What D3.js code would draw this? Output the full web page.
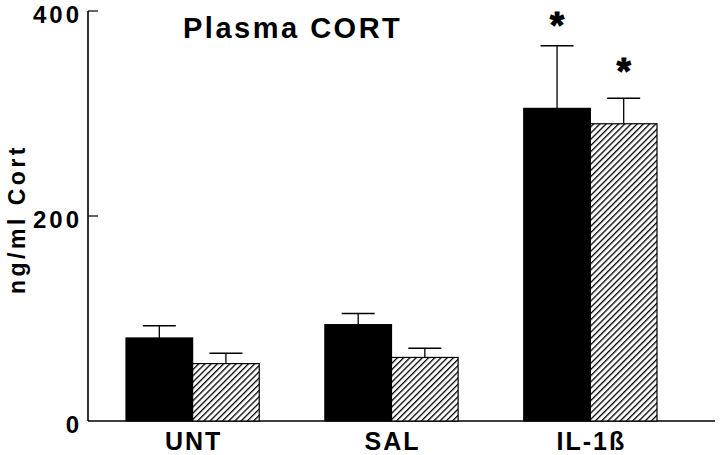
<!DOCTYPE html>
<html><head><meta charset="utf-8">
<script src="https://cdn.jsdelivr.net/npm/d3@7/dist/d3.min.js"></script>
<style>body{margin:0;background:#fff}svg{display:block}text{font-family:"Liberation Sans",Arial,Helvetica,sans-serif;font-weight:bold;fill:#000}</style>
</head><body>
<script>
const categories = ["UNT", "SAL", "IL-1ß"];
const series = ["group A", "group B"];
const valuesA = [81, 94, 305];
const errorsA = [12, 11, 61];
const valuesB = [56, 62, 290];
const errorsB = [10, 9, 25];
const starLevelsA = [null, null, 394];
const starLevelsB = [null, null, 349];
const yTicks = [0, 200, 400];

const W = 720, H = 455;
const svg = d3.select("body").append("svg").attr("width", W).attr("height", H);
const defs = svg.append("defs");
const pat = defs.append("pattern").attr("id", "hatch").attr("patternUnits", "userSpaceOnUse")
  .attr("width", 4.4).attr("height", 4.4).attr("patternTransform", "rotate(45)");
pat.append("rect").attr("width", 4.4).attr("height", 4.4).attr("fill", "#fff");
pat.append("line").attr("x1", 0).attr("y1", 0).attr("x2", 0).attr("y2", 4.4)
  .attr("stroke", "#000").attr("stroke-width", 2.6);

const y = d3.scaleLinear().domain([0, 400]).range([421, 11]);
const x0 = d3.scaleBand().domain(categories).range([126, 657]).paddingInner(0.33).paddingOuter(0);
const x1 = d3.scaleBand().domain(series).range([0, x0.bandwidth()]);

// axes
svg.append("line").attr("x1", 88).attr("x2", 88).attr("y1", y(400)).attr("y2", y(0)).attr("stroke", "#000").attr("stroke-width", 1.6);
svg.append("line").attr("x1", 88).attr("x2", 715).attr("y1", y(0)).attr("y2", y(0)).attr("stroke", "#000").attr("stroke-width", 1.6);
svg.selectAll(".tk").data(yTicks.filter(d => d > 0)).enter().append("line")
  .attr("x1", 88).attr("x2", 98).attr("y1", d => y(d)).attr("y2", d => y(d)).attr("stroke", "#000").attr("stroke-width", 1.2);
svg.selectAll(".tl").data(yTicks).enter().append("text")
  .attr("x", 82).attr("y", d => y(d) + 12).attr("text-anchor", "end")
  .style("font-size", "24px").style("letter-spacing", "3px").text(d => d);

// bars
const data = categories.map((c, i) => ({c, i,
  bars: [{s: series[0], v: valuesA[i], e: errorsA[i], star: starLevelsA[i]},
         {s: series[1], v: valuesB[i], e: errorsB[i], star: starLevelsB[i]}]}));
const g = svg.selectAll(".grp").data(data).enter().append("g")
  .attr("transform", d => `translate(${x0(d.c)},0)`);
const b = g.selectAll(".b").data(d => d.bars).enter().append("g");
const cx = d => x1(d.s) + x1.bandwidth() / 2;
b.append("line").attr("x1", cx).attr("x2", cx)
  .attr("y1", d => y(d.v)).attr("y2", d => y(d.v + d.e)).attr("stroke", "#000").attr("stroke-width", 1.3);
b.append("line").attr("x1", d => cx(d) - 16.5).attr("x2", d => cx(d) + 16.5)
  .attr("y1", d => y(d.v + d.e)).attr("y2", d => y(d.v + d.e)).attr("stroke", "#000").attr("stroke-width", 1.5);
b.append("rect").attr("x", d => x1(d.s)).attr("width", x1.bandwidth())
  .attr("y", d => y(d.v)).attr("height", d => y(0) - y(d.v))
  .attr("fill", (d, j) => j === 0 ? "#000" : "url(#hatch)")
  .attr("stroke", "#000").attr("stroke-width", 1.2);

// significance stars
b.filter(d => d.star != null).append("text")
  .attr("x", cx)
  .attr("y", d => y(d.star) + 20.5)
  .attr("text-anchor", "middle").style("font-size", "36px")
  .attr("stroke", "#000").attr("stroke-width", 1.2).text("*");

// x labels
svg.selectAll(".xl").data(categories).enter().append("text")
  .attr("x", d => x0(d) + x0.bandwidth() / 2 + 1).attr("y", 450)
  .attr("text-anchor", "middle").style("font-size", "25px").style("letter-spacing", "2px").text(d => d);

// title
svg.append("text").attr("x", 183).attr("y", 38).style("font-size", "29px").style("letter-spacing", "2.5px").text("Plasma CORT");

// y label
svg.append("text").attr("transform", "translate(25,219) rotate(-90)").attr("text-anchor", "middle")
  .style("font-size", "23px").style("letter-spacing", "3.5px").text("ng/ml Cort");
</script>
</body></html>
